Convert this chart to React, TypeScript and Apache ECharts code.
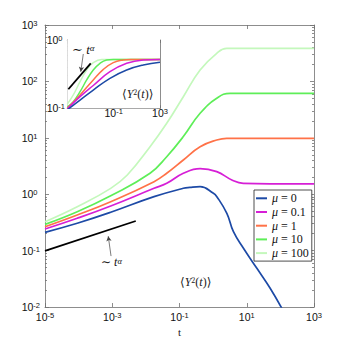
import React, { useEffect, useRef } from 'react';
import * as echarts from 'echarts';

// ---- Main plot data (t, <Y^2(t)>) ----
const muNames = ['μ = 0', 'μ = 0.1', 'μ = 1', 'μ = 10', 'μ = 100'];

const tMu0 = [1e-5, 9.1e-5, 9.0e-4, 0.0175, 0.13, 0.204, 0.41, 1.02, 1.29, 2.56, 4.02, 7.98, 20, 49.7, 110];
const yMu0 = [0.211, 0.305, 0.478, 0.904, 1.274, 1.32, 1.358, 1.037, 0.904, 0.458, 0.216, 0.11, 0.0485, 0.0215, 0.0095];

const tMu01 = [1e-5, 9.1e-5, 9.0e-4, 0.0175, 0.0417, 0.13, 0.41, 1.28, 3.6, 7.9, 384, 1000];
const yMu01 = [0.2415, 0.374, 0.618, 1.274, 1.56, 2.35, 2.85, 2.51, 1.79, 1.56, 1.52, 1.52];

const tMu1 = [1e-5, 9.1e-5, 9.0e-4, 0.0175, 0.0417, 0.13, 0.41, 1.28, 2.54, 6.3, 1000];
const yMu1 = [0.265, 0.428, 0.736, 1.67, 2.35, 4.04, 6.95, 9.14, 9.8, 9.8, 9.8];

const tMu10 = [1e-5, 9.1e-5, 9.0e-4, 0.0133, 0.0417, 0.13, 0.41, 1.28, 3.2, 1000];
const yMu10 = [0.292, 0.49, 0.94, 2.35, 4.62, 10.5, 27.2, 50.1, 61.5, 61.5];

const tMu100 = [1e-5, 9.1e-5, 9.0e-4, 2.8e-3, 0.0133, 0.0417, 0.13, 0.41, 1.28, 2.54, 1000];
const yMu100 = [0.325, 0.6, 1.27, 2.19, 6.95, 18.1, 53.6, 159, 315, 386, 386];

// reference power law ~ t^alpha (main)
const tRef = [1e-5, 0.005];
const yRef = [0.0985, 0.335];
const arrowMain = [[9.2e-4, 0.08], [7.6e-4, 0.18]];

// ---- Inset data ----
const tIn0 = [1e-5, 1.26e-4, 1.74e-3, 0.048, 1.33, 36, 1000];
const yIn0 = [0.095, 0.132, 0.185, 0.275, 0.364, 0.43, 0.471];
const tIn01 = [1e-5, 1.26e-4, 1.74e-3, 0.048, 1.33, 36, 1000];
const yIn01 = [0.098, 0.148, 0.216, 0.343, 0.456, 0.51, 0.52];
const tIn1 = [1e-5, 1.26e-4, 1.74e-3, 0.013, 0.093, 0.68, 3, 1000];
const yIn1 = [0.1, 0.157, 0.26, 0.372, 0.466, 0.51, 0.52, 0.52];
const tIn10 = [1e-5, 3.3e-5, 1.26e-4, 4.7e-4, 1.74e-3, 6.6e-3, 0.025, 0.093, 1000];
const yIn10 = [0.105, 0.125, 0.175, 0.26, 0.364, 0.456, 0.51, 0.52, 0.52];
const tIn100 = [1e-5, 3.3e-5, 1.26e-4, 4.7e-4, 1.74e-3, 9.3e-3, 1000];
const yIn100 = [0.115, 0.157, 0.245, 0.364, 0.466, 0.52, 0.52];
const tRefIn = [1.23e-5, 1.05e-3];
const yRefIn = [0.19, 0.456];
const arrowIn = [[2.4e-4, 0.624], [1.45e-4, 0.343]];

const mainMinorTicks: number[] = [];
for (let d = -2; d <= 2; d++) for (let k = 2; k <= 9; k++) mainMinorTicks.push(d + Math.log10(k));
const insetMinorTicks: number[] = [];
for (let k = 2; k <= 9; k++) insetMinorTicks.push(-1 + Math.log10(k));

const zip = (t: number[], y: number[]) => t.map((v, i) => [v, y[i]]);

const SANS = "'Liberation Sans', Arial, Helvetica, sans-serif";
const SERIF = "'Liberation Serif', 'DejaVu Serif', 'Times New Roman', serif";
const AXIS_COLOR = '#707070';
const colors = ['#1d4aa6', '#d61fd6', '#ff7248', '#5eee58', '#c4f8bc'];

const powRich = {
  b: { fontSize: 10.5, fontFamily: SANS, color: '#111', lineHeight: 11, padding: [4, 0, 0, 0], verticalAlign: 'bottom' },
  s: { fontSize: 7.5, fontFamily: SANS, color: '#111', lineHeight: 8, verticalAlign: 'top' },
};
const powFmt = (hide: number[] = []) => (v: number) => {
  const e = Math.round(Math.log10(v));
  if (hide.includes(e)) return '';
  return `{b|10}{s|${e}}`;
};

export default function App() {
  const ref = useRef<HTMLDivElement>(null);
  useEffect(() => {
    document.body.style.margin = '0';
    const chart = echarts.init(ref.current!, undefined, { renderer: 'svg' });
    const mainData = [
      [tMu0, yMu0], [tMu01, yMu01], [tMu1, yMu1], [tMu10, yMu10], [tMu100, yMu100],
    ];
    const inData = [
      [tIn0, yIn0], [tIn01, yIn01], [tIn1, yIn1], [tIn10, yIn10], [tIn100, yIn100],
    ];
    const lineBase = { type: 'line', symbol: 'none', showSymbol: false, smooth: 0.45, clip: true, silent: true };
    const series: any[] = [];
    for (let i = 4; i >= 0; i--) {
      series.push({
        ...lineBase, name: muNames[i], xAxisIndex: 0, yAxisIndex: 0, z: 3 + (4 - i) * 0.01,
        data: zip(mainData[i][0], mainData[i][1]),
        lineStyle: { color: colors[i], width: 1.7 }, itemStyle: { color: colors[i] },
      });
    }
    for (let i = 4; i >= 0; i--) {
      series.push({
        ...lineBase, name: 'inset ' + muNames[i], xAxisIndex: 2, yAxisIndex: 4, z: 5,
        data: zip(inData[i][0], inData[i][1]),
        lineStyle: { color: colors[i], width: 1.5 }, itemStyle: { color: colors[i] },
      });
    }
    series.push({
      type: 'line', name: 'ref', xAxisIndex: 0, yAxisIndex: 0, symbol: 'none', silent: true, z: 4,
      data: zip(tRef, yRef), lineStyle: { color: '#000', width: 1.8 },
      markLine: {
        silent: true, symbol: ['none', 'arrow'], symbolSize: [4, 5], label: { show: false },
        lineStyle: { color: '#444', width: 0.7, type: 'solid' },
        data: [[{ coord: arrowMain[0] }, { coord: arrowMain[1] }]],
      },
    });
    series.push({
      type: 'line', name: 'refIn', xAxisIndex: 2, yAxisIndex: 4, symbol: 'none', silent: true, z: 6,
      data: zip(tRefIn, yRefIn), lineStyle: { color: '#000', width: 1.8 },
      markLine: {
        silent: true, symbol: ['none', 'arrow'], symbolSize: [4, 5], label: { show: false },
        lineStyle: { color: '#444', width: 0.7, type: 'solid' },
        data: [[{ coord: arrowIn[0] }, { coord: arrowIn[1] }]],
      },
    });

    const majorTick = (len: number) => ({ show: true, inside: true, length: len, lineStyle: { color: AXIS_COLOR, width: 0.8 } });
    const axLine = { show: true, onZero: false, lineStyle: { color: AXIS_COLOR, width: 0.8 } };
    const noLine = { show: false, onZero: false };

    const option: any = {
      animation: false,
      backgroundColor: '#fff',
      grid: [
        { left: 45, top: 25, width: 269, height: 282 },
        { left: 67.3, top: 40, width: 92.7, height: 68.3, show: true, backgroundColor: '#fff', borderWidth: 0, z: 4 },
      ],
      xAxis: [
        {
          type: 'log', gridIndex: 0, min: 1e-5, max: 1e3, logBase: 10, interval: 2, position: 'bottom',
          axisLine: axLine, axisTick: majorTick(4), splitLine: { show: false }, minorTick: { show: false },
          axisLabel: { margin: 4, formatter: powFmt(), rich: powRich },
          name: 't', nameLocation: 'middle', nameGap: 18,
          nameTextStyle: { fontFamily: SERIF, fontSize: 11, color: '#222' },
        },
        {
          type: 'log', gridIndex: 0, min: 1e-5, max: 1e3, logBase: 10, interval: 2, position: 'top',
          axisLine: axLine, axisTick: majorTick(4), axisLabel: { show: false }, splitLine: { show: false },
        },
        {
          type: 'log', gridIndex: 1, min: 1e-5, max: 1e3, logBase: 10, interval: 4, position: 'bottom',
          axisLine: axLine, axisTick: majorTick(3), splitLine: { show: false },
          axisLabel: { margin: -1, formatter: powFmt([-5]), rich: powRich },
        },
        {
          type: 'log', gridIndex: 1, min: 1e-5, max: 1e3, logBase: 10, interval: 4, position: 'top',
          axisLine: axLine, axisTick: majorTick(3), axisLabel: { show: false }, splitLine: { show: false },
        },
      ],
      yAxis: [
        {
          type: 'log', gridIndex: 0, min: 1e-2, max: 1e3, logBase: 10, interval: 1, position: 'left',
          axisLine: axLine, axisTick: majorTick(4), splitLine: { show: false },
          axisLabel: { margin: 23.3, align: 'left', formatter: powFmt(), rich: powRich },
        },
        {
          type: 'log', gridIndex: 0, min: 1e-2, max: 1e3, logBase: 10, interval: 1, position: 'right',
          axisLine: axLine, axisTick: majorTick(4), axisLabel: { show: false }, splitLine: { show: false },
        },
        {
          type: 'value', gridIndex: 0, min: -2, max: 3, position: 'left',
          axisLine: noLine, splitLine: { show: false }, axisLabel: { show: false },
          axisTick: { ...majorTick(2), customValues: mainMinorTicks },
        },
        {
          type: 'value', gridIndex: 0, min: -2, max: 3, position: 'right',
          axisLine: noLine, splitLine: { show: false }, axisLabel: { show: false },
          axisTick: { ...majorTick(2), customValues: mainMinorTicks },
        },
        {
          type: 'log', gridIndex: 1, min: 0.1, max: 1, logBase: 10, interval: 1, position: 'left',
          axisLine: axLine, axisTick: majorTick(3), splitLine: { show: false },
          axisLabel: { margin: 20.6, align: 'left', formatter: powFmt(), rich: powRich },
        },
        {
          type: 'log', gridIndex: 1, min: 0.1, max: 1, logBase: 10, interval: 1, position: 'right',
          axisLine: axLine, axisTick: majorTick(3), axisLabel: { show: false }, splitLine: { show: false },
        },
        {
          type: 'value', gridIndex: 1, min: -1, max: 0, position: 'left',
          axisLine: noLine, splitLine: { show: false }, axisLabel: { show: false },
          axisTick: { ...majorTick(1.5), customValues: insetMinorTicks },
        },
        {
          type: 'value', gridIndex: 1, min: -1, max: 0, position: 'right',
          axisLine: noLine, splitLine: { show: false }, axisLabel: { show: false },
          axisTick: { ...majorTick(1.5), customValues: insetMinorTicks },
        },
      ],
      legend: {
        data: muNames.map((n) => ({ name: n, icon: 'rect' })),
        orient: 'vertical', left: 254, top: 190,
        padding: [2.3, 3, 2, 2], itemGap: 1.7, itemWidth: 11, itemHeight: 2,
        backgroundColor: '#fff', borderColor: '#222', borderWidth: 0.8, borderRadius: 0,
        selectedMode: false, z: 10,
        textStyle: {
          fontSize: 12, lineHeight: 12, fontFamily: SERIF, color: '#111',
          rich: {
            m: { fontSize: 12, fontFamily: SERIF, fontStyle: 'italic', color: '#111', lineHeight: 12 },
            r: { fontSize: 12, fontFamily: SERIF, color: '#111', lineHeight: 12 },
          },
        },
        formatter: (name: string) => `{m|μ}{r|${name.slice(1)}}`,
      },
      graphic: [
        {
          type: 'text', left: 101, top: 253, z: 20, silent: true,
          style: {
            text: '{n|∼ }{i|t}{s|α}',
            rich: {
              n: { fontSize: 12, fontFamily: SERIF, fill: '#111', lineHeight: 12, padding: [3, 0, 0, 0], verticalAlign: 'bottom' },
              i: { fontSize: 12, fontFamily: SERIF, fontStyle: 'italic', fill: '#111', lineHeight: 12, padding: [3, 0, 0, 0], verticalAlign: 'bottom' },
              s: { fontSize: 8.5, fontFamily: SERIF, fontStyle: 'italic', fill: '#111', lineHeight: 9, verticalAlign: 'top' },
            },
          },
        },
        {
          type: 'text', left: 180, top: 273, z: 20, silent: true,
          style: {
            text: '{n|⟨}{i|Y}{s|2}{n|(}{i|t}{n|)⟩}',
            rich: {
              n: { fontSize: 12, fontFamily: SERIF, fill: '#222', lineHeight: 12, padding: [3, 0, 0, 0], verticalAlign: 'bottom' },
              i: { fontSize: 12, fontFamily: SERIF, fontStyle: 'italic', fill: '#222', lineHeight: 12, padding: [3, 0, 0, 0], verticalAlign: 'bottom' },
              s: { fontSize: 8, fontFamily: SERIF, fill: '#222', lineHeight: 8, verticalAlign: 'top' },
            },
          },
        },
        {
          type: 'text', left: 72, top: 40, z: 20, silent: true,
          style: {
            text: '{n|∼ }{i|t}{s|α}',
            rich: {
              n: { fontSize: 13, fontFamily: SERIF, fill: '#111', lineHeight: 13, padding: [3, 0, 0, 0], verticalAlign: 'bottom' },
              i: { fontSize: 13, fontFamily: SERIF, fontStyle: 'italic', fill: '#111', lineHeight: 13, padding: [3, 0, 0, 0], verticalAlign: 'bottom' },
              s: { fontSize: 9, fontFamily: SERIF, fontStyle: 'italic', fill: '#111', lineHeight: 9, verticalAlign: 'top' },
            },
          },
        },
        {
          type: 'text', left: 122, top: 85, z: 20, silent: true,
          style: {
            text: '{n|⟨}{i|Y}{s|2}{n|(}{i|t}{n|)⟩}',
            rich: {
              n: { fontSize: 12, fontFamily: SERIF, fill: '#222', lineHeight: 12, padding: [3, 0, 0, 0], verticalAlign: 'bottom' },
              i: { fontSize: 12, fontFamily: SERIF, fontStyle: 'italic', fill: '#222', lineHeight: 12, padding: [3, 0, 0, 0], verticalAlign: 'bottom' },
              s: { fontSize: 8, fontFamily: SERIF, fill: '#222', lineHeight: 8, verticalAlign: 'top' },
            },
          },
        },
      ],
      series,
    };
    chart.setOption(option);
    return () => chart.dispose();
  }, []);
  return <div ref={ref} style={{ position: 'fixed', left: 0, top: 0, width: 347, height: 347 }} />;
}
